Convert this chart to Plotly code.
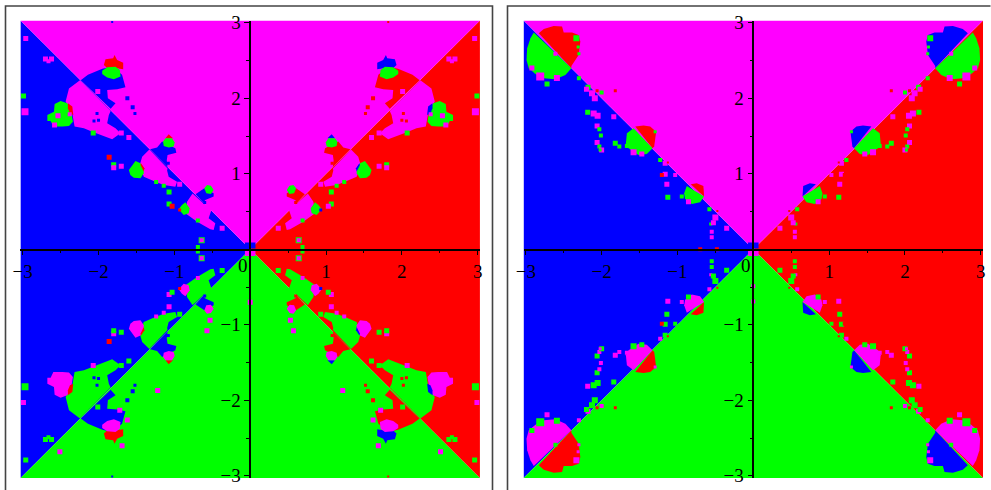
import plotly.graph_objects as go

LIM = 3.03
COLORS = {"m": "#ff00ff", "b": "#0000ff", "r": "#ff0000", "g": "#00ff00"}
# colour of each role in the quadrants: upper-left, upper-right, lower-left, lower-right
ROLES = {"side": "brbr", "vert": "mmgg", "blob": "ggmm", "cap": "rbrb"}
QUAD = [(-1, 1), (1, 1), (-1, -1), (1, -1)]

BASE = [("side", [(0, 0), (LIM, 0), (LIM, LIM)]), ("vert", [(0, 0), (0, LIM), (LIM, LIM)])]

# left plot: basin boundaries, as |x|, |y|
L_A_SIDE_PATCH = [(2.245,2.24),(2.39,2.13),(2.434,1.956),(2.346,1.80),(2.316,1.625),(2.193,1.603),(2.083,1.558),(1.974,1.514),(1.82,1.457),(1.71,1.536),(1.776,1.603),(1.886,1.669),(1.864,1.779),(1.84,1.83)]
L_A_VERT_PATCH = [(2.235,2.24),(2.14,2.31),(1.95,2.39),(1.82,2.42),(1.69,2.31),(1.645,2.146),(1.754,2.12),(1.886,2.11),(1.877,2.0),(1.776,1.934),(1.84,1.86)]
L_A_SIDE_BLOB = [(2.675,1.779),(2.588,1.823),(2.579,1.925),(2.5,1.965),(2.412,1.934),(2.36,1.823),(2.338,1.69),(2.39,1.633),(2.478,1.625),(2.596,1.625),(2.632,1.7),(2.675,1.70)]
L_A_SIDE_CAP = [(2.404,1.934),(2.346,1.89),(2.333,1.779),(2.377,1.80),(2.404,1.867)]
L_A_VERT_CAP = [(1.93,2.44),(1.908,2.517),(1.807,2.53),(1.79,2.574),(1.754,2.508),(1.675,2.472),(1.675,2.384),(1.776,2.40),(1.886,2.40)]
L_A_VERT_BLOB = [(1.952,2.366),(1.886,2.41),(1.776,2.419),(1.719,2.375),(1.71,2.287),(1.798,2.252),(1.886,2.274),(1.952,2.322)]
L_B_SIDE_PATCH = [(1.33,1.32),(1.425,1.227),(1.456,1.117),(1.404,.962),(1.25,.896),(1.14,.852),(.987,.83),(.965,.896),(1.075,.962),(1.096,1.042),(1.09,1.07)]
L_B_VERT_PATCH = [(1.32,1.325),(1.228,1.347),(1.162,1.426),(.987,1.338),(.974,1.28),(1.09,1.25),(1.1,1.18),(1.09,1.09)]
L_B_SIDE_BLOB = [(1.6,1.051),(1.557,1.117),(1.513,1.17),(1.447,1.14),(1.404,1.073),(1.404,1.007),(1.447,.94),(1.535,.949),(1.58,.985)]
L_B_SIDE_CAP = [(1.44,1.14),(1.395,1.073),(1.404,1.03),(1.447,1.117)]
L_B_VERT_CAP = [(1.118,1.47),(1.075,1.523),(1.018,1.47)]
L_B_VERT_BLOB = [(1.149,1.426),(1.118,1.47),(1.031,1.47),(.996,1.413),(1.009,1.36),(1.075,1.347),(1.14,1.369)]
L_C_SIDE_PATCH = [(.76,.74),(.833,.631),(.855,.477),(.70,.366),(.526,.265),(.482,.256),(.46,.344),(.548,.41),(.504,.543),(.62,.61)]
L_C_VERT_PATCH = [(.72,.73),(.658,.777),(.605,.808),(.482,.742),(.482,.70),(.592,.653),(.62,.62)]
L_C_SIDE_BLOB = [(.943,.53),(.9,.587),(.855,.623),(.798,.543),(.811,.477),(.877,.455)]
L_C_VERT_BLOB = [(.605,.808),(.57,.852),(.518,.843),(.482,.786),(.518,.733),(.579,.742)]

LEFT_SHAPES = [
    ("vert", L_A_SIDE_PATCH), ("side", L_A_VERT_PATCH), ("blob", L_A_SIDE_BLOB), ("cap", L_A_SIDE_CAP),
    ("cap", L_A_VERT_CAP), ("blob", L_A_VERT_BLOB),
    ("vert", L_B_SIDE_PATCH), ("side", L_B_VERT_PATCH), ("blob", L_B_SIDE_BLOB), ("cap", L_B_SIDE_CAP),
    ("cap", L_B_VERT_CAP), ("blob", L_B_VERT_BLOB),
    ("vert", L_C_SIDE_PATCH), ("side", L_C_VERT_PATCH), ("blob", L_C_SIDE_BLOB), ("blob", L_C_VERT_BLOB),
]

# isolated squares: |x|, |y|, colour per quadrant ("." = none), size
LEFT_SPECKS = [
    (2.96,2.79,"mmgg",5),(2.97,1.82,"mmgg",7),(2.99,2.03,"ggmm",5),(2.70,2.52,"mmgg",5),(2.62,2.52,"mmgg",5),
    (2.66,2.49,"mmgg",4),(2.01,2.09,"mmgg",5),(1.60,1.48,"mmgg",5),(1.70,1.54,"mmgg",5),(2.07,1.54,"ggmm",5),
    (1.80,1.12,"ggmm",5),(1.80,1.08,"mmgg",5),(1.70,1.10,"mmgg",5),(1.86,1.22,"rrrr",5),(.93,.86,"mmgg",5),
    (1.07,.76,"ggmm",5),(1.07,.60,"ggmm",5),(1.03,.57,"rmgg",5),(.64,.12,"gggg",6),(.64,.12,"mmmm",4),
    (.69,.03,"gggg",4),(.37,.28,"mmgg",5),(.69,.38,"ggmm",4),(1.24,.89,"ggmm",4),(1.14,.84,"ggmm",4),
    (.57,1.08,"..mm",5),(.53,.94,"..mm",5),(1.22,1.87,"..mm",5),(1.62,2.26,"..mm",5),(1.72,2.13,"..mm",5),
    (1.69,2.60,"..mm",5),(2.51,2.68,"..mm",5),(0,.70,"..m.",5),(2.535,1.77,"mm..",5),(2.38,1.79,"mm..",4),
    (2.58,1.645,"mm..",5),(1.62,2.0,"brbr",4),(1.55,1.88,"brbr",4),(1.52,1.80,"brbr",3),(2.02,1.80,"brbr",3),
    (2.06,1.70,"brbr",3),(2.0,1.71,"brbr",3),(.93,.52,"rbrb",3),(1.82,3.01,"brbr",2),(.60,.62,"brbr",3),
    (.42,.62,"mmgg",3),(1.08,1.14,"brbr",3),
    (.03,.05,"bbmm",6),
]

# right plot: one disc on each diagonal per quadrant, split into two halves
R_A_CAP = [(2.829,2.861),(2.763,2.918),(2.632,2.958),(2.522,2.949),(2.5,2.87),(2.39,2.87),(2.303,2.839),(2.281,2.751),(2.303,2.574),(2.346,2.508),(2.399,2.428),(2.399,2.397)]
R_A_BLOB = [(2.895,2.87),(2.939,2.795),(2.982,2.662),(2.991,2.508),(2.961,2.397),(2.873,2.322),(2.763,2.265),(2.61,2.252),(2.478,2.309),(2.399,2.397)]
R_B_CAP = [(1.557,1.625),(1.447,1.638),(1.36,1.625),(1.281,1.558),(1.307,1.36),(1.329,1.338)]
R_B_BLOB = [(1.579,1.603),(1.667,1.536),(1.68,1.404),(1.645,1.338),(1.513,1.25),(1.404,1.263),(1.329,1.338)]
R_C_CAP = [(.825,.861),(.746,.874),(.658,.839),(.649,.698)]
R_C_BLOB = [(.877,.839),(.912,.742),(.899,.667),(.811,.60),(.702,.623),(.649,.698)]

RIGHT_SHAPES = [("cap", R_A_CAP), ("blob", R_A_BLOB), ("cap", R_B_CAP), ("blob", R_B_BLOB), ("cap", R_C_CAP), ("blob", R_C_BLOB)]

RIGHT_SPECKS = [
    (2.333,2.795,"ggmm",6),(2.31,2.68,"ggmm",3),(2.30,2.59,"ggmm",3),(2.92,2.40,"mmgg",5),(2.81,2.29,"mmgg",8),
    (2.59,2.27,"mmgg",6),(2.72,2.19,"ggmm",5),(2.61,2.59,"mmgg",4),
    (2.30,2.265,"ggmm",4),(2.18,2.146,"ggmm",5),(2.2,2.12,"mmgg",5),(2.127,2.066,"mmgg",6),(2.09,2.0,"mmgg",6),
    (2.06,2.10,"rrrr",3),(1.82,2.10,"rrrr",3),(2.0,2.075,"ggmm",4),(2.184,1.815,"ggmm",5),(2.105,1.80,"mmgg",6),
    (2.053,1.77,"mmgg",6),(1.84,1.757,"mmgg",5),(2.06,1.634,"mmgg",5),(2.03,1.59,"ggmm",4),(2.01,1.506,"ggmm",4),
    (2.06,1.413,"mmgg",5),(2.03,1.36,"ggmm",4),(2.0,1.316,"mmgg",5),(2.02,1.316,"ggmm",3),(1.82,1.404,"ggmm",5),
    (1.767,1.36,"ggmm",4),(1.579,1.285,"mmgg",6),(1.47,1.263,"mmgg",5),(1.667,1.369,"ggmm",4),(1.294,1.558,"ggmm",3),
    (1.228,1.183,"ggmm",4),(1.162,1.139,"mmgg",5),(1.127,1.15,"rrrr",2),(1.162,.993,"mmgg",5),(1.206,.985,"rrrr",4),
    (1.03,.985,"mmgg",4),(1.14,.86,"mmgg",5),(1.127,.689,"ggmm",5),(.855,.631,"mmgg",5),(.943,.698,"ggmm",4),
    (.579,.53,"ggmm",4),(.5,.42,"mmgg",6),(.474,.508,"rrrr",2),(.561,.336,"ggmm",3),(.526,.353,"mmgg",5),
    (.548,.234,"mmgg",4),(.548,.159,"mmgg",4),(.351,.278,"mmgg",5),(.70,0,"rr..",4),(.48,0,"rr..",4),
    (0,.49,"..m.",4),(0,.69,"..m.",4),(.03,.05,"bbmm",6),
]


def add_shape(fig, xref, yref, q, role, pts):
    sx, sy = QUAD[q]
    xs = [sx * p[0] for p in pts] + [sx * pts[0][0]]
    ys = [sy * p[1] for p in pts] + [sy * pts[0][1]]
    fig.add_trace(go.Scatter(x=xs, y=ys, xaxis=xref, yaxis=yref, mode="lines", fill="toself",
                             fillcolor=COLORS[ROLES[role][q]], line=dict(width=0), hoverinfo="skip"))


def add_specks(fig, xref, yref, specks):
    for q in range(4):
        sx, sy = QUAD[q]
        s = [t for t in specks if t[2][q] != "."]
        fig.add_trace(go.Scatter(x=[sx * t[0] for t in s], y=[sy * t[1] for t in s], xaxis=xref, yaxis=yref,
                                 mode="markers", hoverinfo="skip",
                                 marker=dict(symbol="square", size=[t[3] for t in s], opacity=1,
                                             color=[COLORS[t[2][q]] for t in s], line=dict(width=0))))


fig = go.Figure()
for xref, yref, shapes, specks in [("x", "y", LEFT_SHAPES, LEFT_SPECKS), ("x2", "y2", RIGHT_SHAPES, RIGHT_SPECKS)]:
    for q in range(4):
        for role, pts in BASE + shapes:
            add_shape(fig, xref, yref, q, role, pts)
    add_specks(fig, xref, yref, specks)

W, H = 991, 490
FONT = dict(family="Liberation Serif", size=19, color="black")
AX = dict(range=[-LIM, LIM], showgrid=False, zeroline=False, showline=True, linecolor="black", linewidth=1.5,
          ticks="outside", ticklen=5, tickwidth=1, tickcolor="black", tickfont=FONT, anchor="free", fixedrange=True,
          minor=dict(tickvals=[-2.5, -1.5, -0.5, 0.5, 1.5, 2.5], ticks="outside", ticklen=3, tickwidth=1, tickcolor="black"),
          tickvals=[-3, -2, -1, 1, 2, 3], ticktext=["\u22123", "\u22122", "\u22121", "1", "2", "3"])


def panel(cx):
    half = LIM * 75.83
    return [(cx - half) / W, (cx + half) / W]


yd = [(H - 478.1) / H, (H - 20.5) / H]
fig.update_layout(
    width=W, height=H, autosize=False, margin=dict(l=0, r=0, t=0, b=0, pad=0, autoexpand=False), showlegend=False,
    paper_bgcolor="white", plot_bgcolor="white", hovermode=False,
    xaxis=dict(AX, domain=panel(250.2), position=(H - 249.5) / H),
    yaxis=dict(AX, domain=yd, position=250.2 / W),
    xaxis2=dict(AX, domain=panel(753.3), position=(H - 249.5) / H),
    yaxis2=dict(AX, domain=yd, position=753.3 / W),
    annotations=[dict(xref=a, yref=b, x=-0.09, y=-0.215, text="0", showarrow=False, font=FONT) for a, b in [("x", "y"), ("x2", "y2")]],
    shapes=[
        dict(type="path", xref="paper", yref="paper", line=dict(color="#444444", width=1.6),
             path=f"M {5.5/W} 0 L {5.5/W} {(H-6)/H} L {492.5/W} {(H-6)/H} L {492.5/W} 0"),
        dict(type="path", xref="paper", yref="paper", line=dict(color="#444444", width=1.6),
             path=f"M {507.5/W} 0 L {507.5/W} {(H-6)/H} L {990.5/W} {(H-6)/H}"),
    ],
)
fig.write_html("out.html", config=dict(displayModeBar=False),
               post_script="document.documentElement.style.margin='0';document.body.style.margin='0';document.body.style.overflow='hidden';")
